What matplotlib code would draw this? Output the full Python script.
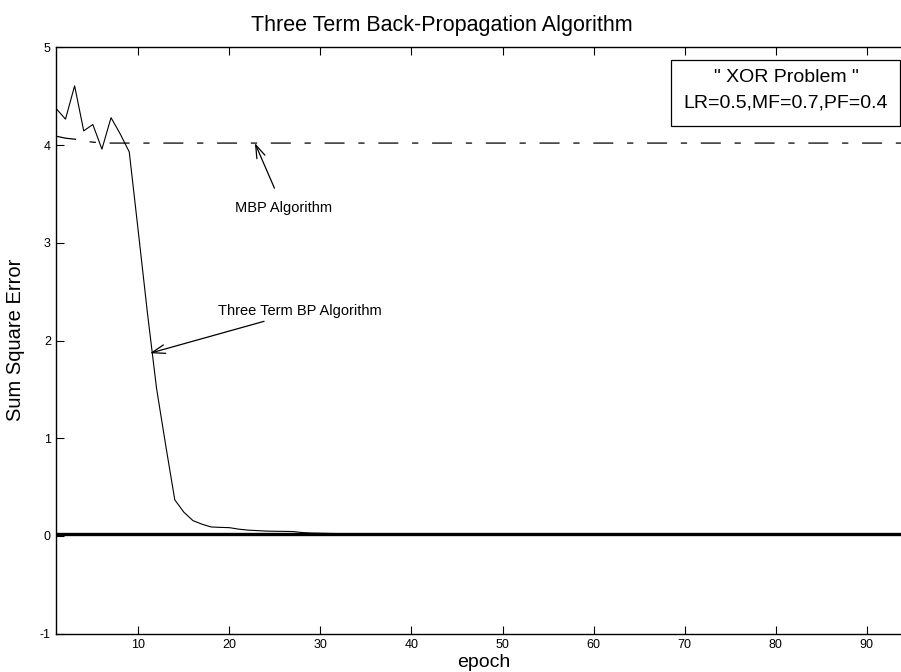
#!/usr/bin/env python3
"""
Three Term Back-Propagation vs MBP - sum square error per epoch (XOR problem)
"""

import matplotlib
matplotlib.use('Agg')  # Use non-interactive backend
import matplotlib.pyplot as plt
from matplotlib.patches import Rectangle

# Three term BP error curve
three_term_epochs = [1, 2, 3, 4, 5, 6, 7, 8, 9, 10, 11, 12, 13, 14, 15, 16, 17, 18,
                     19, 20, 21, 22, 23, 24, 25, 26, 27, 28, 29, 30, 31, 32, 33, 34,
                     35, 100]
three_term_sse = [4.37, 4.265, 4.606, 4.145, 4.21, 3.958, 4.28, 4.115, 3.93, 3.11,
                  2.28, 1.51, 0.93, 0.37, 0.243, 0.157, 0.12, 0.092, 0.088, 0.085,
                  0.07, 0.06, 0.055, 0.05, 0.048, 0.047, 0.045, 0.035, 0.03, 0.028,
                  0.026, 0.024, 0.02, 0.018, 0.017, 0.015]

# MBP error curve (flat after the first few epochs)
mbp_epochs = [1, 2, 3, 4, 5, 6, 100]
mbp_sse = [4.09, 4.07, 4.06, 4.04, 4.03, 4.02, 4.02]

# error goal line drawn thick along zero
goal_level = 0.017

x_limits = (1, 100)
y_limits = (-1, 5)
x_ticks = [10, 20, 30, 40, 50, 60, 70, 80, 90]
y_ticks = [-1, 0, 1, 2, 3, 4, 5]

title_text = 'Three Term Back-Propagation Algorithm'
box_lines = ['" XOR Problem "', 'LR=0.5,MF=0.7,PF=0.4']

FONT = ['Liberation Sans', 'DejaVu Sans']


def create_chart(output_file="out.png"):
    """Draw the error curves with the MATLAB-like look"""

    plt.rcParams['font.family'] = FONT
    plt.rcParams['axes.unicode_minus'] = False  # plain hyphen for "-1"
    fig = plt.figure(figsize=(9.01, 6.72), dpi=100)

    # axes run a little past the right edge of the picture
    ax = fig.add_axes([56.4 / 901, 38.3 / 672, 901.4 / 901, 586.4 / 672])

    ax.plot(three_term_epochs, three_term_sse, color='black', linewidth=0.8)
    ax.plot(mbp_epochs, mbp_sse, color='black', linewidth=0.9,
            dashes=(16, 11, 5, 11))
    ax.axhline(goal_level, color='black', linewidth=2.4)

    ax.set_xlim(*x_limits)
    ax.set_ylim(*y_limits)
    ax.set_xticks(x_ticks)
    ax.set_yticks(y_ticks)
    ax.tick_params(direction='in', length=5.5, width=0.8, labelsize=9,
                   top=True, right=True, pad=4)
    for spine in ax.spines.values():
        spine.set_linewidth(1.0)

    # annotations with arrows
    arrow_style = '->,head_length=0.9,head_width=0.3'
    ax.annotate('MBP Algorithm', xy=(22.8, 4.02), xytext=(25.9, 3.354),
                ha='center', va='center', fontsize=10.5,
                arrowprops=dict(arrowstyle=arrow_style,
                                lw=0.9, color='black', shrinkA=8, shrinkB=0))
    ax.annotate('Three Term BP Algorithm', xy=(11.28, 1.87), xytext=(18.8, 2.30),
                ha='left', va='center', fontsize=10.5,
                arrowprops=dict(arrowstyle=arrow_style,
                                lw=0.9, color='black', shrinkA=1, shrinkB=0))

    # text box in the top right corner
    fig.patches.append(Rectangle((671 / 901, 1 - 126 / 672), 229 / 901, 66 / 672,
                                 transform=fig.transFigure, fill=False,
                                 edgecolor='black', linewidth=0.9))
    fig.text(786 / 901, 1 - 77.3 / 672, box_lines[0], ha='center', va='center',
             fontsize=14)
    fig.text(786 / 901, 1 - 103.3 / 672, box_lines[1], ha='center', va='center',
             fontsize=14)

    fig.text(441.7 / 901, 1 - 25 / 672, title_text, ha='center', va='center',
             fontsize=15.5)
    fig.text(16 / 901, 1 - 340 / 672, 'Sum Square Error', rotation=90,
             ha='center', va='center', fontsize=14.5)
    fig.text(484 / 901, 1 - 654 / 672, 'epoch', ha='center', va='top',
             fontsize=14)

    fig.savefig(output_file, dpi=100)
    print(f"Chart saved as {output_file}")


def main():
    create_chart()


if __name__ == "__main__":
    main()
